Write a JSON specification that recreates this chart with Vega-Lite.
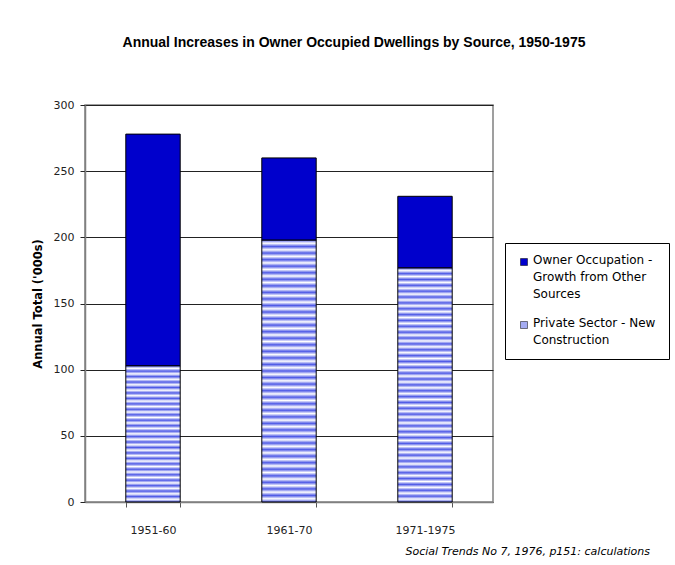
{
  "$schema": "https://vega.github.io/schema/vega-lite/v6.json",
  "autosize": {"type": "none"},
  "width": 408,
  "height": 397,
  "padding": {"left": 85, "top": 105, "right": 182, "bottom": 63},
  "background": "white",
  "title": {
    "text": "Annual Increases in Owner Occupied Dwellings by Source, 1950-1975",
    "font": "Liberation Sans",
    "fontSize": 14,
    "fontWeight": "bold",
    "color": "#000000",
    "anchor": "middle",
    "frame": "group",
    "dx": 65,
    "offset": 49
  },
  "data": {
    "values": [
      {"period": "1951-60", "source": "Private Sector - New Construction", "value": 103},
      {"period": "1951-60", "source": "Owner Occupation - Growth from Other Sources", "value": 175},
      {"period": "1961-70", "source": "Private Sector - New Construction", "value": 198},
      {"period": "1961-70", "source": "Owner Occupation - Growth from Other Sources", "value": 62},
      {"period": "1971-1975", "source": "Private Sector - New Construction", "value": 177},
      {"period": "1971-1975", "source": "Owner Occupation - Growth from Other Sources", "value": 54}
    ]
  },
  "mark": {"type": "bar", "stroke": "#000000", "strokeWidth": 1},
  "encoding": {
    "x": {
      "field": "period",
      "type": "nominal",
      "sort": null,
      "scale": {"paddingInner": 0.6, "paddingOuter": 0.3},
      "axis": {
        "title": "Social Trends No 7, 1976, p151: calculations",
        "titleFont": "DejaVu Sans",
        "titleFontSize": 11,
        "titleFontStyle": "italic",
        "titleFontWeight": "normal",
        "titleColor": "#000000",
        "titleAlign": "left",
        "titleAnchor": "start",
        "titleBaseline": "alphabetic",
        "titleX": 320,
        "titleY": 52,
        "labelAngle": 0,
        "labelFont": "DejaVu Sans",
        "labelFontSize": 11,
        "labelColor": "#222222",
        "labelPadding": 17,
        "tickBand": "extent",
        "tickColor": "#555555",
        "tickSize": 5,
        "domainColor": "#808080",
        "domainWidth": 1.5,
        "grid": false
      }
    },
    "y": {
      "field": "value",
      "type": "quantitative",
      "stack": "zero",
      "scale": {"domain": [0, 300], "nice": false},
      "axis": {
        "title": "Annual Total ('000s)",
        "titleFont": "DejaVu Sans",
        "titleFontSize": 11.5,
        "titleFontWeight": "bold",
        "titleColor": "#000000",
        "titlePadding": 10,
        "values": [0, 50, 100, 150, 200, 250, 300],
        "labelFont": "DejaVu Sans",
        "labelFontSize": 11,
        "labelColor": "#222222",
        "labelPadding": 6,
        "tickColor": "#222222",
        "tickSize": 5,
        "domainColor": "#808080",
        "domainWidth": 1.5,
        "grid": true,
        "gridColor": "#222222",
        "gridWidth": 1
      }
    },
    "order": {"field": "source", "sort": "descending"},
    "fill": {
      "field": "source",
      "type": "nominal",
      "scale": {
        "domain": ["Owner Occupation - Growth from Other Sources", "Private Sector - New Construction"],
        "range": ["#0000cc", "#a4abf2"]
      },
      "legend": {
        "title": null,
        "orient": "none",
        "legendX": 420,
        "legendY": 138,
        "padding": 13,
        "strokeColor": "#000000",
        "fillColor": "#ffffff",
        "symbolType": "square",
        "symbolSize": 49,
        "symbolStrokeColor": "#000000",
        "symbolStrokeWidth": 0.5,
        "labelFont": "DejaVu Sans",
        "labelFontSize": 12,
        "labelColor": "#000000",
        "labelOffset": 3,
        "labelLimit": 300,
        "labelBaseline": "top",
        "rowPadding": 17,
        "labelExpr": "datum.label === 'Owner Occupation - Growth from Other Sources' ? ['Owner Occupation -', 'Growth from Other', 'Sources'] : ['Private Sector - New', 'Construction']",
        "encode": {
          "labels": {"update": {"lineHeight": {"value": 17}, "dy": {"value": -7}}}
        }
      },
      "condition": [
        {
          "test": "datum.source === 'Private Sector - New Construction' && datum.period === '1951-60'",
          "value": {
            "gradient": "linear", "x1": 0, "y1": 0, "x2": 0, "y2": 1,
            "stops": [
              {"offset": 0, "color": "#4f5ae6"}, {"offset": 0.02, "color": "#ffffff"}, {"offset": 0.04, "color": "#4f5ae6"}, {"offset": 0.06, "color": "#ffffff"},
              {"offset": 0.08, "color": "#4f5ae6"}, {"offset": 0.1, "color": "#ffffff"}, {"offset": 0.12, "color": "#4f5ae6"}, {"offset": 0.14, "color": "#ffffff"},
              {"offset": 0.16, "color": "#4f5ae6"}, {"offset": 0.18, "color": "#ffffff"}, {"offset": 0.2, "color": "#4f5ae6"}, {"offset": 0.22, "color": "#ffffff"},
              {"offset": 0.24, "color": "#4f5ae6"}, {"offset": 0.26, "color": "#ffffff"}, {"offset": 0.28, "color": "#4f5ae6"}, {"offset": 0.3, "color": "#ffffff"},
              {"offset": 0.32, "color": "#4f5ae6"}, {"offset": 0.34, "color": "#ffffff"}, {"offset": 0.36, "color": "#4f5ae6"}, {"offset": 0.38, "color": "#ffffff"},
              {"offset": 0.4, "color": "#4f5ae6"}, {"offset": 0.42, "color": "#ffffff"}, {"offset": 0.44, "color": "#4f5ae6"}, {"offset": 0.46, "color": "#ffffff"},
              {"offset": 0.48, "color": "#4f5ae6"}, {"offset": 0.5, "color": "#ffffff"}, {"offset": 0.52, "color": "#4f5ae6"}, {"offset": 0.54, "color": "#ffffff"},
              {"offset": 0.56, "color": "#4f5ae6"}, {"offset": 0.58, "color": "#ffffff"}, {"offset": 0.6, "color": "#4f5ae6"}, {"offset": 0.62, "color": "#ffffff"},
              {"offset": 0.64, "color": "#4f5ae6"}, {"offset": 0.66, "color": "#ffffff"}, {"offset": 0.68, "color": "#4f5ae6"}, {"offset": 0.7, "color": "#ffffff"},
              {"offset": 0.72, "color": "#4f5ae6"}, {"offset": 0.74, "color": "#ffffff"}, {"offset": 0.76, "color": "#4f5ae6"}, {"offset": 0.78, "color": "#ffffff"},
              {"offset": 0.8, "color": "#4f5ae6"}, {"offset": 0.82, "color": "#ffffff"}, {"offset": 0.84, "color": "#4f5ae6"}, {"offset": 0.86, "color": "#ffffff"},
              {"offset": 0.88, "color": "#4f5ae6"}, {"offset": 0.9, "color": "#ffffff"}, {"offset": 0.92, "color": "#4f5ae6"}, {"offset": 0.94, "color": "#ffffff"},
              {"offset": 0.96, "color": "#4f5ae6"}, {"offset": 0.98, "color": "#ffffff"}, {"offset": 1, "color": "#4f5ae6"}
            ]
          }
        },
        {
          "test": "datum.source === 'Private Sector - New Construction'",
          "value": {
            "gradient": "linear", "x1": 0, "y1": 0, "x2": 0, "y2": 1,
            "stops": [
              {"offset": 0, "color": "#4f5ae6"}, {"offset": 0.0125, "color": "#ffffff"}, {"offset": 0.025, "color": "#4f5ae6"}, {"offset": 0.0375, "color": "#ffffff"},
              {"offset": 0.05, "color": "#4f5ae6"}, {"offset": 0.0625, "color": "#ffffff"}, {"offset": 0.075, "color": "#4f5ae6"}, {"offset": 0.0875, "color": "#ffffff"},
              {"offset": 0.1, "color": "#4f5ae6"}, {"offset": 0.1125, "color": "#ffffff"}, {"offset": 0.125, "color": "#4f5ae6"}, {"offset": 0.1375, "color": "#ffffff"},
              {"offset": 0.15, "color": "#4f5ae6"}, {"offset": 0.1625, "color": "#ffffff"}, {"offset": 0.175, "color": "#4f5ae6"}, {"offset": 0.1875, "color": "#ffffff"},
              {"offset": 0.2, "color": "#4f5ae6"}, {"offset": 0.2125, "color": "#ffffff"}, {"offset": 0.225, "color": "#4f5ae6"}, {"offset": 0.2375, "color": "#ffffff"},
              {"offset": 0.25, "color": "#4f5ae6"}, {"offset": 0.2625, "color": "#ffffff"}, {"offset": 0.275, "color": "#4f5ae6"}, {"offset": 0.2875, "color": "#ffffff"},
              {"offset": 0.3, "color": "#4f5ae6"}, {"offset": 0.3125, "color": "#ffffff"}, {"offset": 0.325, "color": "#4f5ae6"}, {"offset": 0.3375, "color": "#ffffff"},
              {"offset": 0.35, "color": "#4f5ae6"}, {"offset": 0.3625, "color": "#ffffff"}, {"offset": 0.375, "color": "#4f5ae6"}, {"offset": 0.3875, "color": "#ffffff"},
              {"offset": 0.4, "color": "#4f5ae6"}, {"offset": 0.4125, "color": "#ffffff"}, {"offset": 0.425, "color": "#4f5ae6"}, {"offset": 0.4375, "color": "#ffffff"},
              {"offset": 0.45, "color": "#4f5ae6"}, {"offset": 0.4625, "color": "#ffffff"}, {"offset": 0.475, "color": "#4f5ae6"}, {"offset": 0.4875, "color": "#ffffff"},
              {"offset": 0.5, "color": "#4f5ae6"}, {"offset": 0.5125, "color": "#ffffff"}, {"offset": 0.525, "color": "#4f5ae6"}, {"offset": 0.5375, "color": "#ffffff"},
              {"offset": 0.55, "color": "#4f5ae6"}, {"offset": 0.5625, "color": "#ffffff"}, {"offset": 0.575, "color": "#4f5ae6"}, {"offset": 0.5875, "color": "#ffffff"},
              {"offset": 0.6, "color": "#4f5ae6"}, {"offset": 0.6125, "color": "#ffffff"}, {"offset": 0.625, "color": "#4f5ae6"}, {"offset": 0.6375, "color": "#ffffff"},
              {"offset": 0.65, "color": "#4f5ae6"}, {"offset": 0.6625, "color": "#ffffff"}, {"offset": 0.675, "color": "#4f5ae6"}, {"offset": 0.6875, "color": "#ffffff"},
              {"offset": 0.7, "color": "#4f5ae6"}, {"offset": 0.7125, "color": "#ffffff"}, {"offset": 0.725, "color": "#4f5ae6"}, {"offset": 0.7375, "color": "#ffffff"},
              {"offset": 0.75, "color": "#4f5ae6"}, {"offset": 0.7625, "color": "#ffffff"}, {"offset": 0.775, "color": "#4f5ae6"}, {"offset": 0.7875, "color": "#ffffff"},
              {"offset": 0.8, "color": "#4f5ae6"}, {"offset": 0.8125, "color": "#ffffff"}, {"offset": 0.825, "color": "#4f5ae6"}, {"offset": 0.8375, "color": "#ffffff"},
              {"offset": 0.85, "color": "#4f5ae6"}, {"offset": 0.8625, "color": "#ffffff"}, {"offset": 0.875, "color": "#4f5ae6"}, {"offset": 0.8875, "color": "#ffffff"},
              {"offset": 0.9, "color": "#4f5ae6"}, {"offset": 0.9125, "color": "#ffffff"}, {"offset": 0.925, "color": "#4f5ae6"}, {"offset": 0.9375, "color": "#ffffff"},
              {"offset": 0.95, "color": "#4f5ae6"}, {"offset": 0.9625, "color": "#ffffff"}, {"offset": 0.975, "color": "#4f5ae6"}, {"offset": 0.9875, "color": "#ffffff"},
              {"offset": 1, "color": "#4f5ae6"}
            ]
          }
        }
      ]
    }
  },
  "config": {
    "view": {"stroke": "#808080", "strokeWidth": 1.5},
    "axis": {"labelFont": "DejaVu Sans"}
  }
}
